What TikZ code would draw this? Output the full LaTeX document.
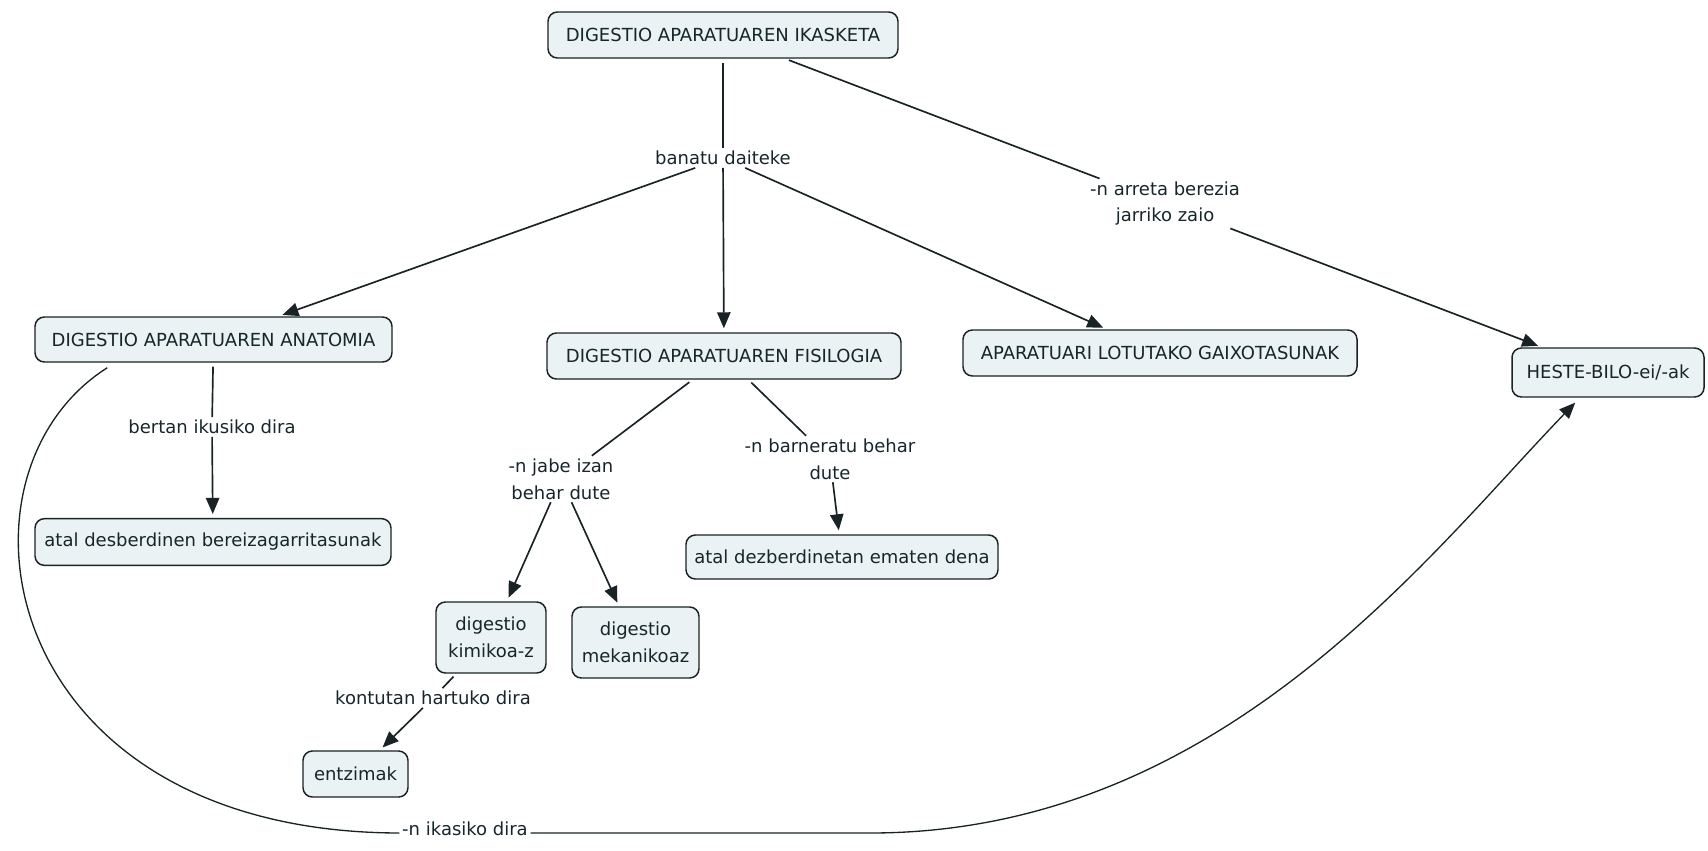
\documentclass[tikz,border=0pt]{standalone}
\usepackage{fontspec}
\setmainfont{DejaVu Sans}
\usetikzlibrary{arrows.meta,calc}
\definecolor{boxfill}{RGB}{234,242,243}
\definecolor{ink}{RGB}{22,38,42}
\definecolor{edge}{RGB}{25,35,38}
\begin{document}
\begin{tikzpicture}[x=0.75pt,y=-0.75pt,
  every node/.style={font=\fontsize{13.5}{20}\selectfont, text=ink},
  concept/.style={draw=edge, line width=1.1pt, fill=boxfill, rounded corners=7pt, align=center, inner sep=0pt},
  lbl/.style={align=center, inner xsep=2pt, inner ysep=2pt},
  conn/.style={draw=edge, line width=1.25pt},
  thin/.style={draw=edge, line width=1pt},
  fromBox/.style={shorten <=3pt},
  arr/.style={-{Triangle[length=12pt,width=10pt]}, shorten >=3pt},
]
\useasboundingbox (0,0) rectangle (1708,850);

% concepts
\node[concept, minimum width=262.5pt, minimum height=34.5pt] (top) at (723,35) {DIGESTIO APARATUAREN IKASKETA};
\node[concept, minimum width=267.75pt, minimum height=33.75pt] (anat) at (213.5,339.5) {DIGESTIO APARATUAREN ANATOMIA};
\node[concept, minimum width=267pt, minimum height=35pt] (atal1) at (213,542) {atal desberdinen bereizagarritasunak};
\node[concept, minimum width=265.5pt, minimum height=34.5pt] (fisio) at (724,356) {DIGESTIO APARATUAREN FISILOGIA};
\node[concept, minimum width=295.5pt, minimum height=34.5pt] (gaix) at (1160,353) {APARATUARI LOTUTAKO GAIXOTASUNAK};
\node[concept, minimum width=144pt, minimum height=36.75pt] (heste) at (1608,372.5) {HESTE-BILO-ei/-ak};
\node[concept, minimum width=234pt, minimum height=33pt] (atal2) at (842,557) {atal dezberdinetan ematen dena};
\node[concept, minimum width=82.5pt, minimum height=53.25pt] (kimikoa) at (491,637.5) {digestio\\kimikoa-z};
\node[concept, minimum width=95.25pt, minimum height=53.25pt] (meka) at (635.5,642.5) {digestio\\mekanikoaz};
\node[concept, minimum width=78.75pt, minimum height=34.5pt] (entzimak) at (355.5,774) {entzimak};

% linking phrases
\node[lbl] (banatu) at (723,158) {banatu daiteke};
\node[lbl] (arreta) at (1165,203.5) {-n arreta berezia\\jarriko zaio};
\node[lbl] (bertan) at (212,427) {bertan ikusiko dira};
\node[lbl] (jabe) at (561,479) {-n jabe izan\\behar dute};
\node[lbl] (barneratu) at (830,459) {-n barneratu behar\\dute};
\node[lbl] (kontutan) at (433,698) {kontutan hartuko dira};
\node[lbl] (ikasiko) at (465,829) {-n ikasiko dira};

% connectors
\draw[conn, fromBox] (top) -- (banatu);
\draw[conn, arr] (banatu) -- (anat);
\draw[conn, arr] (banatu) -- (fisio);
\draw[conn, arr] (banatu) -- (gaix);
\draw[conn, fromBox] (top) -- (arreta);
\draw[conn, arr] (arreta) -- (heste);
\draw[conn, fromBox] (anat) -- (bertan);
\draw[conn, arr] (bertan) -- (atal1);
\draw[conn, fromBox] (fisio) -- (jabe);
\draw[conn, fromBox] (fisio) -- (barneratu);
\draw[conn, arr] (barneratu) -- (atal2);
\draw[conn, arr] (jabe) -- (kimikoa);
\draw[conn, arr] (jabe) -- (meka);
\draw[conn, fromBox] (kimikoa) -- (kontutan);
\draw[conn, arr] (kontutan) -- (entzimak);

% long curved connector
\coordinate (c0) at ($(anat.south west)+(73,5)$);
\coordinate (c1) at (870,833);
\coordinate (c2) at ($(heste.south)+(-30,2)$);
\draw[thin] (c0) .. controls (-62,475) and (-3,832) .. ($(ikasiko.west)+(0,4)$);
\draw[thin, arr] ($(ikasiko.east)+(0,4)$) -- (c1) .. controls (1220,833) and (1428,555) .. (c2);
\end{tikzpicture}
\end{document}
